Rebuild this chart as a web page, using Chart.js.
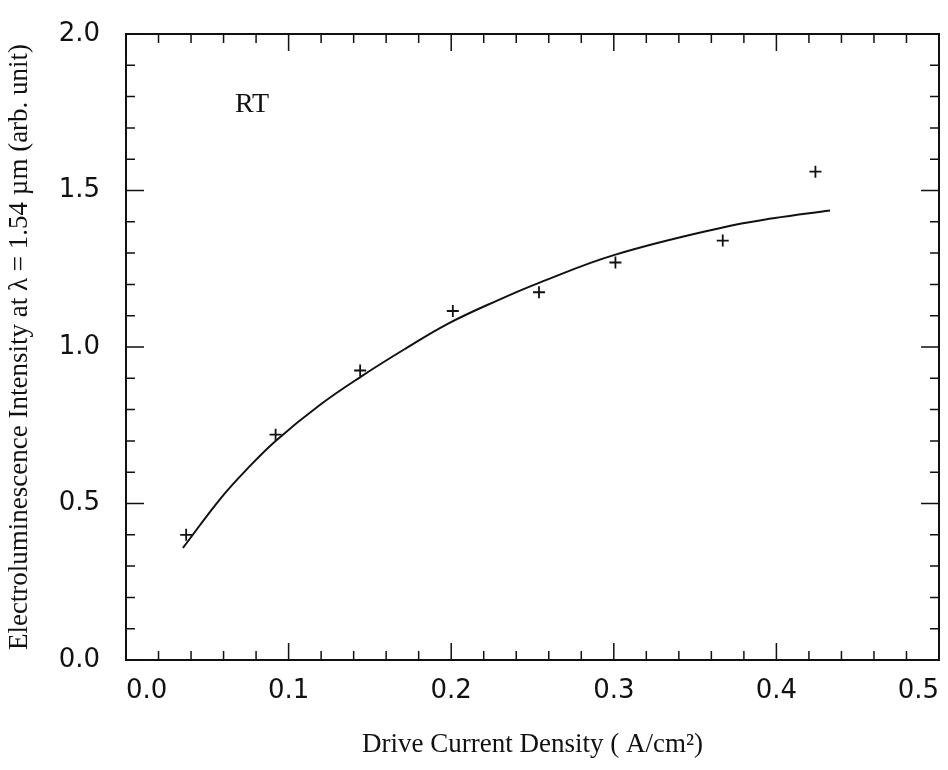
<!DOCTYPE html>
<html>
<head>
<meta charset="utf-8">
<script src="https://cdn.jsdelivr.net/npm/chart.js@4.4.1/dist/chart.umd.min.js"></script>
<style>
  body { margin: 0; background: #fff; }
</style>
</head>
<body>
<canvas id="elChart" width="948" height="770"></canvas>
<script>
// measured points (the + markers)
var currentDensity = [0.037, 0.092, 0.144, 0.201, 0.254, 0.301, 0.367, 0.424];
var intensity = [0.40, 0.72, 0.925, 1.115, 1.175, 1.27, 1.34, 1.56];

// fitted curve
var fitX = [0.035, 0.058, 0.075, 0.092, 0.119, 0.145, 0.171, 0.199, 0.229, 0.254, 0.301, 0.367, 0.398, 0.433];
var fitY = [0.358, 0.515, 0.613, 0.700, 0.814, 0.907, 0.992, 1.077, 1.150, 1.205, 1.295, 1.382, 1.411, 1.436];

var xTickLabels = ["0.0", "0.1", "0.2", "0.3", "0.4", "0.5"];
var yTickLabels = ["0.0", "0.5", "1.0", "1.5", "2.0"];

var ink = "#111";

// build {x,y} pairs for chart.js
var measured = [];
for (var i = 0; i < currentDensity.length; i++) {
  measured.push({ x: currentDensity[i], y: intensity[i] });
}
var fitted = [];
for (var k = 0; k < fitX.length; k++) {
  fitted.push({ x: fitX[k], y: fitY[k] });
}

// box around plot + inward ticks on all four sides, and the RT note
var frameTicks = {
  id: "frameTicks",
  afterDraw: function (chart) {
    var c = chart.ctx;
    var a = chart.chartArea;
    var xs = chart.scales.x;
    var ys = chart.scales.y;
    c.save();
    c.strokeStyle = ink;
    c.lineWidth = 2;
    c.strokeRect(a.left, a.top, a.right - a.left, a.bottom - a.top);
    c.lineWidth = 1.5;
    c.beginPath();
    for (var i = 0; i <= 25; i++) {
      var px = xs.getPixelForValue(i * 0.02);
      var len = (i % 5 === 0) ? 17 : 9;
      c.moveTo(px, a.bottom);
      c.lineTo(px, a.bottom - len);
      c.moveTo(px, a.top);
      c.lineTo(px, a.top + len);
    }
    for (var j = 0; j <= 20; j++) {
      var py = ys.getPixelForValue(j * 0.1);
      var len2 = (j % 5 === 0) ? 18 : 9;
      c.moveTo(a.left, py);
      c.lineTo(a.left + len2, py);
      c.moveTo(a.right, py);
      c.lineTo(a.right - len2, py);
    }
    c.stroke();
    c.fillStyle = ink;
    c.font = "28px 'Liberation Serif'";
    c.textAlign = "center";
    c.textBaseline = "middle";
    c.fillText("RT", xs.getPixelForValue(0.0775), ys.getPixelForValue(1.775));
    c.restore();
  }
};

var ctx = document.getElementById("elChart").getContext("2d");
var elChart = new Chart(ctx, {
  type: "scatter",
  data: {
    datasets: [
      {
        label: "fit",
        type: "line",
        data: fitted,
        borderColor: ink,
        borderWidth: 2,
        pointRadius: 0,
        fill: false,
        tension: 0.4,
      },
      {
        label: "measured",
        data: measured,
        pointStyle: "cross",
        pointRadius: 6,
        borderColor: ink,
        borderWidth: 1.8,
        showLine: false,
      },
    ],
  },
  options: {
    responsive: false,
    animation: false,
    layout: { padding: { top: 34, right: 9, left: 0, bottom: 0 } },
    plugins: {
      legend: { display: false },
      tooltip: { enabled: false },
    },
    scales: {
      x: {
        type: "linear",
        min: 0,
        max: 0.5,
        grid: { display: false },
        border: { display: false },
        ticks: {
          stepSize: 0.1,
          padding: 8,
          align: "inner",
          color: ink,
          font: { family: "DejaVu Sans", size: 26 },
          callback: function (value, index) { return xTickLabels[index]; },
        },
        title: {
          display: true,
          text: "Drive Current Density ( A/cm\u00B2)",
          color: ink,
          font: { family: "Liberation Serif", size: 27 },
          padding: { bottom: 9 },
        },
        afterFit: function (scale) {
          scale.height = 110;
          scale.paddingLeft = 0;
          scale.paddingRight = 0;
        },
      },
      y: {
        type: "linear",
        min: 0,
        max: 2,
        grid: { display: false },
        border: { display: false },
        ticks: {
          stepSize: 0.5,
          padding: 18,
          color: ink,
          font: { family: "DejaVu Sans", size: 26 },
          callback: function (value, index) { return yTickLabels[index]; },
        },
        title: {
          display: true,
          text: "Electroluminescence Intensity at \u03BB = 1.54 \u00B5m (arb. unit)",
          color: ink,
          font: { family: "Liberation Serif", size: 27 },
          padding: { top: 4 },
        },
        afterFit: function (scale) {
          scale.width = 126;
          scale.paddingTop = 0;
          scale.paddingBottom = 0;
        },
      },
    },
  },
  plugins: [frameTicks],
});
</script>
</body>
</html>
